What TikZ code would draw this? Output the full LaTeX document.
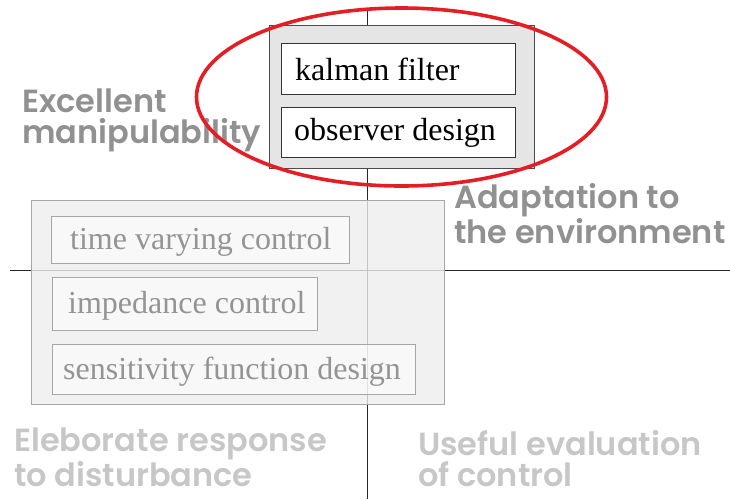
\documentclass[tikz,border=0pt]{standalone}
\usepackage{fontspec}
\setmainfont{Liberation Serif}
\newfontfamily\labelfont{Poppins}[UprightFont=* SemiBold,BoldFont=* Bold]
\begin{document}
\begin{tikzpicture}[x=1pt,y=-1pt,
  axis/.style={draw=black!85,line width=0.8pt},
  itemtext/.style={font=\fontsize{32}{36}\selectfont,anchor=base west,inner sep=0pt},
  quadlabel/.style={font=\labelfont\fontsize{32}{31}\selectfont,align=left,anchor=base west,inner sep=0pt}
]
\useasboundingbox (0,0) rectangle (730,499);

% quadrant axes
\draw[axis] (367,8) -- (367,499);
\draw[axis] (10,270) -- (730,270);

% quadrant labels (anchored at the baseline of their last line)
\node[quadlabel,text=black!43] (q1) at (22,143) {Excellent\\manipulability};
\node[quadlabel,text=black!43] (q2) at (454,243) {Adaptation to\\the environment};
\node[quadlabel,text=black!22] (q3) at (14,486) {Eleborate response\\to disturbance};
\node[quadlabel,text=black!22] (q4) at (418,486) {Useful evaluation\\of control};

% lower-left group (faded)
\fill[fill=black!7,fill opacity=0.8] (31,200) rectangle (444,404);
\draw[black!35,line width=0.8pt] (31,200) rectangle (444,404);
\foreach \a/\b/\c/\d in {51/216/349/263, 52/277/317/330, 52/344/415/394}{
  \fill[white,fill opacity=0.5] (\a,\b) rectangle (\c,\d);
  \draw[black!35,line width=0.8pt] (\a,\b) rectangle (\c,\d);
}
\node[itemtext,text=black!42] (t1) at (70,249) {time varying control};
\node[itemtext,text=black!42] (t2) at (68,313) {impedance control};
\node[itemtext,text=black!42] (t3) at (63,379) {sensitivity function design};

% upper group
\draw[fill=black!10,draw=black!70,line width=0.9pt] (269,25) rectangle (534,168);
\draw[fill=white,draw=black!80,line width=0.9pt] (281,43) rectangle (515,94);
\draw[fill=white,draw=black!80,line width=0.9pt] (281,107) rectangle (515,157);
\node[itemtext,text=black] (k1) at (295,80) {kalman filter};
\node[itemtext,text=black] (k2) at (294,140) {observer design};

% highlight ellipse
\draw[line width=3.6pt,color={rgb,255:red,227;green,30;blue,36}] (401.5,97) ellipse [x radius=205,y radius=89];
\end{tikzpicture}
\end{document}
